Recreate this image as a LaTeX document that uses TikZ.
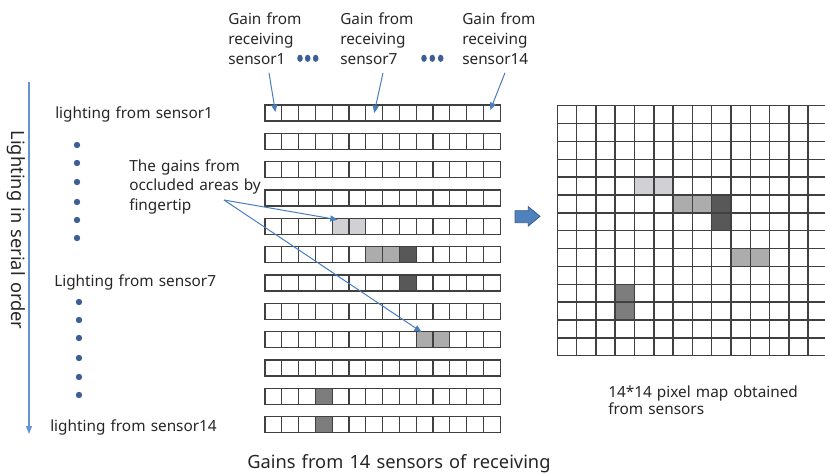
\documentclass[tikz,border=0pt]{standalone}
\usepackage{fontspec}
\setmainfont{Noto Sans}[WordSpace=1.3]
\usetikzlibrary{arrows.meta,calc}
\definecolor{cArrow}{RGB}{74,126,187}
\definecolor{cAxis}{RGB}{100,150,215}
\definecolor{cDot}{RGB}{60,95,150}
\definecolor{cEdge}{RGB}{64,64,64}
\definecolor{cLight}{RGB}{208,208,213}
\definecolor{cMid}{RGB}{172,172,172}
\definecolor{cDark}{RGB}{88,88,88}
\definecolor{cGray}{RGB}{125,125,125}
\definecolor{cBlock}{RGB}{79,129,189}
\definecolor{cBlockEdge}{RGB}{56,93,138}

\begin{document}
\begin{tikzpicture}[x=0.75pt, y=-0.75pt,
  lbl/.style={font=\fontsize{11.5}{15}\selectfont, text=black!85, inner sep=0pt},
  biglbl/.style={font=\fontsize{13.7}{16}\selectfont, text=black!85, inner sep=0pt},
  cell/.style={draw=cEdge, line width=0.9pt, minimum width=12.6pt, minimum height=12pt, inner sep=0pt},
  pointer/.style={draw=cArrow, line width=0.75pt, -{Triangle[length=5.5pt,width=4.5pt]}}]
\useasboundingbox (0,0) rectangle (825,474);
\clip (0,0) rectangle (825,474);
% occluded gains, row/col/shade
\foreach \r/\c/\col in {5/5/cLight,5/6/cLight,6/7/cMid,6/8/cMid,6/9/cDark,7/9/cDark,9/10/cMid,9/11/cMid,11/4/cGray,12/4/cGray} {
  \fill[\col] ({265+(\c-1)*16.8},{105+(\r-1)*28.33}) rectangle +(16.8,16);
  \fill[\col] ({557.3+(\c-1)*19.3},{105.7+(\r-1)*17.86}) rectangle +(19.3,17.86);
}
% 12 lightings x 14 receivers
\foreach \r in {1,...,12}
  \foreach \c in {1,...,14}
    \node[cell] (L-\r-\c) at ({265+(\c-0.5)*16.8},{113+(\r-1)*28.33}) {};
% 14*14 map
\foreach \r in {0,...,13}
  \foreach \c in {0,...,13}
    \draw[cEdge, line width=1.1pt] ({557.3+\c*19.3},{105.7+\r*17.86}) rectangle +(19.3,17.86);

% receiving sensors
\node[lbl, anchor=north west, align=left] (g1) at (228,12.4) {Gain from\\receiving\\sensor1};
\node[lbl, anchor=north west, align=left] (g7) at (340,12.4) {Gain from\\receiving\\sensor7};
\node[lbl, anchor=north west, align=left] (g14) at (462,12.4) {Gain from\\receiving\\sensor14};
\draw[pointer] ($(g1.south west)+(41,8)$) -- ($(L-1-1.center)+(2,-1)$);
\draw[pointer] ($(g7.south west)+(43,8)$) -- (L-1-7.center);
\draw[pointer] ($(g14.south west)+(43,8)$) -- ($(L-1-14.center)+(-1.5,-3)$);
\foreach \x in {300,307.7,315.7,424,432.3,440.7}
  \fill[cDot] (\x,58.3) circle [x radius=2.8, y radius=3.6];

% lighting sensors
\node[lbl, anchor=base west] (s1) at (55,119) {lighting from sensor1};
\node[lbl, anchor=base west] (s7) at (54,286.7) {Lighting from sensor7};
\node[lbl, anchor=base west] (s14) at (50,431.7) {lighting from sensor14};
\foreach \y in {145,163,182,202,220,238}
  \fill[cDot] (77,\y) circle (3.2);
\foreach \y in {302,320,338,358,377,395}
  \fill[cDot] (79,\y) circle (3.2);
\coordinate (axTop) at (29,82);
\coordinate (axEnd) at (29,434);
\draw[cAxis, line width=1pt, -{Triangle[length=6pt,width=4.5pt]}] (axTop) -- (axEnd);
\node[biglbl, rotate=-90] (serial) at (16,230) {Lighting in serial order};

% fingertip
\node[lbl, anchor=north west, align=left, font=\fontsize{11.5}{14.6}\selectfont] (occ) at (129,159.3) {The gains from\\occluded areas by\\fingertip};
\coordinate (occTail) at (224,200);
\draw[pointer] (occTail) -- ($(L-5-5.north west)+(6,2)$);
\draw[pointer] (occTail) -- ($(L-9-10.north west)+(6,1)$);

% to map
\fill[cBlock, draw=cBlockEdge, line width=0.6pt] (515,210.7) -- (528.3,210.7) -- (528.3,206.7) -- (540,216.3) -- (528.3,226) -- (528.3,222.7) -- (515,222.7) -- cycle;

\node[biglbl, anchor=base west] (bottom) at (247,468.3) {Gains from 14 sensors of receiving};
\node[lbl, anchor=north west, align=left, font=\fontsize{11.5}{13.3}\selectfont] (cap) at (608,385.3) {14*14 pixel map obtained\\from sensors};
\end{tikzpicture}
\end{document}
